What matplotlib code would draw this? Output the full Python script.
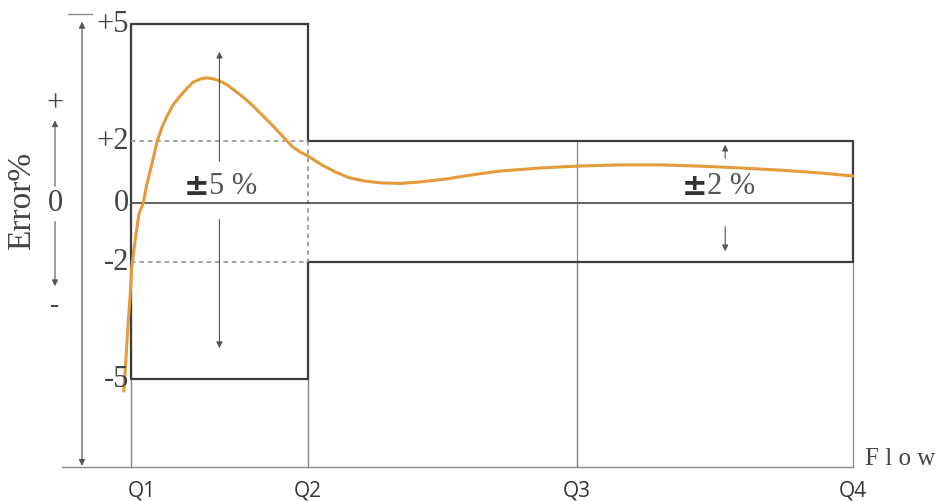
import matplotlib
matplotlib.use("Agg")
import matplotlib.pyplot as plt
import numpy as np

# datos del diagrama de error vs caudal
q_labels = ['Q1', 'Q2', 'Q3', 'Q4']
q_flow = [0.0, 0.245, 0.618, 1.0]          # posiciones relativas de Q1..Q4
err_ticks = [5, 2, 0, -2, -5]
err_labels = ['+5', '+2', '0', '-2', '-5']
banda_baja = 5    # +-5 % entre Q1 y Q2
banda_alta = 2    # +-2 % entre Q2 y Q4

# curva de error
curva_x = [-0.010, -0.007, -0.004, -0.001, 0.001, 0.006, 0.011, 0.017, 0.022,
           0.029, 0.036, 0.043, 0.050, 0.058, 0.068, 0.078, 0.086, 0.096,
           0.105, 0.115, 0.123, 0.133, 0.141, 0.155, 0.169, 0.183, 0.197,
           0.211, 0.224, 0.234, 0.245, 0.262, 0.283, 0.303, 0.324, 0.345,
           0.373, 0.400, 0.435, 0.470, 0.511, 0.567, 0.618, 0.677, 0.733,
           0.788, 0.844, 0.899, 0.954, 1.000]
curva_y = [-5.31, -4.49, -3.59, -2.82, -2.13, -1.22, -0.37, 0.00, 0.61,
           1.26, 1.97, 2.36, 2.64, 2.92, 3.15, 3.36, 3.51, 3.59,
           3.62, 3.59, 3.54, 3.44, 3.33, 3.13, 2.90, 2.64, 2.38,
           2.10, 1.81, 1.65, 1.52, 1.26, 1.00, 0.81, 0.71, 0.65,
           0.63, 0.68, 0.77, 0.90, 1.03, 1.13, 1.19, 1.23, 1.23,
           1.19, 1.13, 1.06, 0.97, 0.87]

# escala vertical esquematica (no lineal, como en el dibujo)
vals = [-12, -5, -2, 0, 2, 5, 10]
pos = [-449, -176, -59, 0, 62, 179, 374]

def fwd(v):
    return np.interp(v, vals, pos)

def inv(p):
    return np.interp(p, pos, vals)

def fx(px):
    # posicion horizontal de la figura (pixel) a unidades de caudal
    return (px - 131) / 722.0

base = -7.25   # linea base del eje de caudal

NEGRO = '#3c3c3c'
GRIS = '#8a8a8a'
NARANJA = '#e39b3c'
SERIF = 'Liberation Serif'

fig = plt.figure(figsize=(9.41, 5.02), dpi=100)
ax = fig.add_axes([0, 0, 1, 1])
ax.set_yscale('function', functions=(fwd, inv))
ax.set_xlim(fx(0), fx(941))
ax.set_ylim(inv(-298), inv(204))
ax.axis('off')

q1, q2, q3, q4 = q_flow

# lineas finas verticales hasta la base
for q in q_flow:
    ax.plot([q, q], [base, -banda_alta], color=GRIS, lw=0.9)
ax.plot([q1, q1], [base, -banda_baja], color=GRIS, lw=0.9)
ax.plot([q2, q2], [base, -banda_baja], color=GRIS, lw=0.9)
ax.plot([q3, q3], [base, banda_alta], color=GRIS, lw=0.9)

# linea base
ax.plot([fx(62), q4], [base, base], color=GRIS, lw=1.0)

# caja +-5 %
ax.plot([q2, q1, q1, q2, q2], [banda_baja, banda_baja, -banda_baja, -banda_baja, -banda_alta],
        color=NEGRO, lw=1.6)
ax.plot([q2, q2], [banda_baja, banda_alta], color=NEGRO, lw=1.6)
# caja +-2 %
ax.plot([q2, q4, q4, q2], [banda_alta, banda_alta, -banda_alta, -banda_alta],
        color=NEGRO, lw=1.6)
# lineas punteadas
ax.plot([q1, q2], [banda_alta, banda_alta], color=GRIS, lw=1.1, ls=(0, (3, 2.5)))
ax.plot([q1, q2], [-banda_alta, -banda_alta], color=GRIS, lw=1.1, ls=(0, (3, 2.5)))
ax.plot([q2, q2], [banda_alta, -banda_alta], color=GRIS, lw=1.1, ls=(0, (3, 2.5)))
# linea de cero
ax.plot([q1, q4], [0, 0], color='#555555', lw=1.3)

# curva de error
ax.plot(curva_x, curva_y, color=NARANJA, lw=2.2, solid_capstyle='round',
        solid_joinstyle='round')

# flechas de las bandas
flecha = dict(arrowstyle='-|>', color='#555555', lw=0.8, mutation_scale=9)
xm = (q1 + q2) / 2
ax.annotate('', xy=(xm, 4.36), xytext=(xm, 1.26), arrowprops=flecha)
ax.annotate('', xy=(xm, -4.28), xytext=(xm, -0.47), arrowprops=flecha)
xa = 0.823
ax.annotate('', xy=(xa, 1.97), xytext=(xa, 1.35), arrowprops=flecha)
ax.annotate('', xy=(xa, -1.73), xytext=(xa, -0.71), arrowprops=flecha)

ax.text(fx(184), 0.55, '±', fontsize=22, fontweight='bold', family='DejaVu Sans',
        color='#333333', ha='left', va='center')
ax.text(fx(209), 0.58, '5 %', fontsize=22, family=SERIF, color='#555555',
        ha='left', va='center')
ax.text(fx(682), 0.55, '±', fontsize=22, fontweight='bold', family='DejaVu Sans',
        color='#333333', ha='left', va='center')
ax.text(fx(707), 0.58, '2 %', fontsize=22, family=SERIF, color='#555555',
        ha='left', va='center')

# etiquetas de error
for v, lab in zip(err_ticks, err_labels):
    ax.text(fx(129), v, lab, fontsize=22, family=SERIF, color='#444444',
            ha='right', va='center')

# eje vertical izquierdo con doble flecha
ax.annotate('', xy=(fx(82), 5.13), xytext=(fx(82), base - 0.05),
            arrowprops=dict(arrowstyle='<|-|>', color='#555555', lw=0.9, mutation_scale=9))
ax.plot([fx(68), fx(92)], [5.26, 5.26], color=GRIS, lw=1.0)

# indicador + 0 -
ax.annotate('', xy=(fx(55), 2.6), xytext=(fx(55), 0.45), arrowprops=flecha)
ax.annotate('', xy=(fx(55), -2.69), xytext=(fx(55), -0.54), arrowprops=flecha)
ax.text(fx(55), 2.97, '+', fontsize=22, family=SERIF, color='#444444',
        ha='center', va='center')
ax.text(fx(55), 0, '0', fontsize=22, family=SERIF, color='#444444',
        ha='center', va='center')
ax.text(fx(55), -3.1, '-', fontsize=20, family=SERIF, color='#444444',
        ha='center', va='center')
ax.text(fx(22), 0.1, 'Error%', fontsize=24, family=SERIF, color='#444444',
        ha='center', va='center', rotation=90)

# etiquetas de caudal (Q1 algo desplazada a la derecha, como en el dibujo)
for q, lab in zip(q_flow, q_labels):
    if lab == 'Q1':
        ax.text(q - 0.005, -7.85, lab, fontsize=15, family='Open Sans',
                color='#333333', ha='left', va='center')
    else:
        ax.text(q, -7.85, lab, fontsize=15, family='Open Sans', color='#333333',
                ha='center', va='center')
ax.text(fx(865), -7.02, 'F l o w', fontsize=18, family=SERIF, color='#444444',
        ha='left', va='center')

fig.savefig('out.png', dpi=100, facecolor='white')
